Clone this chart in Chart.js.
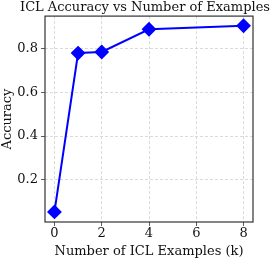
<!DOCTYPE html>
<html>
<head>
<meta charset="utf-8">
<script src="https://cdn.jsdelivr.net/npm/chart.js@4.4.0/dist/chart.umd.min.js"></script>
<style>
  html, body { margin: 0; padding: 0; background: #fff; }
  #wrap { width: 275px; height: 259px; }
</style>
</head>
<body>
<div id="wrap"><canvas id="graphe"></canvas></div>
<script>
// les donnees
const nbExemples = [0, 1, 2, 4, 8]
const precision = [0.053, 0.779, 0.784, 0.888, 0.904]
const ticksX = [0, 2, 4, 6, 8]
const ticksY = [0.2, 0.4, 0.6, 0.8]

const police = "'DejaVu Serif', serif"

// cadre noir autour de la zone du graphe
const cadre = {
    id: 'cadre',
    afterDraw(chart) {
        const {ctx, chartArea: a} = chart
        ctx.save()
        ctx.strokeStyle = '#333'
        ctx.lineWidth = 1.2
        ctx.strokeRect(a.left, a.top, a.right - a.left, a.bottom - a.top)
        ctx.restore()
    }
}

const graphe = document.querySelector("#graphe")
if(graphe){
    new Chart(graphe, {
        type: "line",
        data: {
            datasets: [{
                data: nbExemples.map((x, i) => ({x: x, y: precision[i]})),
                borderColor: '#0000ff',
                backgroundColor: '#0000ff',
                borderWidth: 2,
                pointStyle: 'rectRot',
                pointRadius: 6,
                pointHoverRadius: 6,
                tension: 0
            }]
        },
        options: {
            responsive: true,
            maintainAspectRatio: false,
            animation: false,
            layout: { padding: { left: 0, right: 5, top: 0, bottom: 0 } },
            plugins: {
                legend: { display: false },
                tooltip: { enabled: false },
                title: {
                    display: true,
                    align: 'end',
                    text: 'ICL Accuracy vs Number of Examples',
                    color: '#111',
                    font: { family: police, size: 13, weight: 'normal' },
                    padding: { top: 0, bottom: 0.5 }
                }
            },
            scales: {
                x: {
                    type: 'linear',
                    min: -0.4,
                    max: 8.4,
                    afterBuildTicks: (s) => { s.ticks = ticksX.map(v => ({value: v})) },
                    afterFit: (s) => { s.height = 37 },
                    ticks: {
                        color: '#111',
                        font: { family: police, size: 13 },
                        padding: 0,
                        maxRotation: 0
                    },
                    grid: { color: '#d0d0d0', tickColor: '#333', tickLength: 4, lineWidth: 0.8 },
                    border: { display: false, dash: [3, 2] },
                    title: {
                        display: true,
                        text: 'Number of ICL Examples (k)',
                        color: '#111',
                        font: { family: police, size: 13 },
                        padding: { top: 0, bottom: 0 }
                    }
                },
                y: {
                    type: 'linear',
                    min: 0.007,
                    max: 0.948,
                    afterBuildTicks: (s) => { s.ticks = ticksY.map(v => ({value: v})) },
                    afterFit: (s) => { s.width = 45 },
                    ticks: {
                        color: '#111',
                        font: { family: police, size: 13 },
                        padding: 3,
                        callback: (v) => v.toFixed(1)
                    },
                    grid: { color: '#d0d0d0', tickColor: '#333', tickLength: 4, lineWidth: 0.8 },
                    border: { display: false, dash: [3, 2] },
                    title: {
                        display: true,
                        text: 'Accuracy',
                        color: '#111',
                        font: { family: police, size: 13 },
                        padding: { top: 0, bottom: 0 }
                    }
                },
                // axe vide a droite juste pour garder la marge
                vide: {
                    type: 'linear',
                    position: 'right',
                    display: true,
                    afterFit: (s) => { s.width = 17 },
                    ticks: { display: false },
                    grid: { display: false, drawTicks: false },
                    border: { display: false }
                }
            }
        },
        plugins: [cadre]
    })
}
</script>
</body>
</html>
